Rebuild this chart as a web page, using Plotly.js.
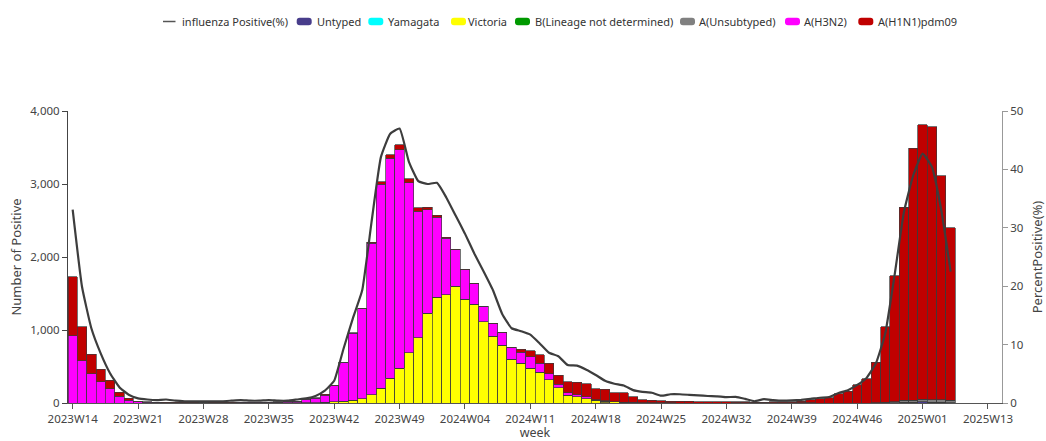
<!DOCTYPE html>
<html>
<head>
<meta charset="utf-8">
<script src="https://cdn.plot.ly/plotly-3.0.1.min.js"></script>
<style>
html,body{margin:0;padding:0;background:#fff;}
#chart{width:1046px;height:441px;}
</style>
</head>
<body>
<div id="chart"></div>
<script>
// Axis categories (weeks) and tick labels
const weeks = [
"2023W14","2023W15","2023W16","2023W17","2023W18","2023W19","2023W20","2023W21","2023W22","2023W23",
"2023W24","2023W25","2023W26","2023W27","2023W28","2023W29","2023W30","2023W31","2023W32","2023W33",
"2023W34","2023W35","2023W36","2023W37","2023W38","2023W39","2023W40","2023W41","2023W42","2023W43",
"2023W44","2023W45","2023W46","2023W47","2023W48","2023W49","2023W50","2023W51","2023W52","2024W01",
"2024W02","2024W03","2024W04","2024W05","2024W06","2024W07","2024W08","2024W09","2024W10","2024W11",
"2024W12","2024W13","2024W14","2024W15","2024W16","2024W17","2024W18","2024W19","2024W20","2024W21",
"2024W22","2024W23","2024W24","2024W25","2024W26","2024W27","2024W28","2024W29","2024W30","2024W31",
"2024W32","2024W33","2024W34","2024W35","2024W36","2024W37","2024W38","2024W39","2024W40","2024W41",
"2024W42","2024W43","2024W44","2024W45","2024W46","2024W47","2024W48","2024W49","2024W50","2024W51",
"2024W52","2025W01","2025W02","2025W03","2025W04"];
const axisWeeks = weeks.concat(["2025W10","2025W11","2025W12","2025W13","2025W14"]);
const tickLabels = ["2023W14","2023W21","2023W28","2023W35","2023W42","2023W49","2024W04","2024W11",
"2024W18","2024W25","2024W32","2024W39","2024W46","2025W01","2025W13"];

// Series names and colours
const seriesNames = ["influenza Positive(%)","Untyped","Yamagata","Victoria","B(Lineage not determined)",
"A(Unsubtyped)","A(H3N2)","A(H1N1)pdm09"];
const seriesColors = ["#3d3d3d","#483D8B","#00FFFF","#FFFF00","#009900","#808080","#FF00FF","#C00000"];

// Series values
const untyped = [
0,0,0,0,0,0,0,0,0,0, 0,0,0,0,0,0,0,0,0,0, 0,0,0,0,0,0,0,0,0,0,
0,0,0,0,0,0,0,0,0,0, 0,0,0,0,0,0,0,0,0,0, 0,0,0,0,0,0,0,2,0,0,
0,0,0,0,0,0,0,0,0,0, 0,0,0,0,0,0,0,0,0,0, 0,0,0,0,0,0,0,0,5,10,
10,15,10,8,5];
const yamagata = new Array(95).fill(0);
const victoria = [
0,0,0,0,0,0,0,0,0,0, 0,0,0,0,0,0,0,0,0,0, 0,0,1,1,2,3,5,8,15,25,
35,55,113,205,341,478,691,896,1228,1447, 1485,1601,1424,1355,1110,915,788,600,546,478,
420,316,212,108,84,60,36,22,15,10, 6,2,1,1,0,0,0,0,0,0,
0,0,0,0,0,0,0,0,0,0, 0,0,0,0,0,0,0,0,0,0, 0,0,0,0,0];
const bLineage = new Array(95).fill(0);
const aUnsub = [
0,0,0,0,0,0,0,0,0,0, 0,0,0,0,0,0,0,0,0,0, 0,0,0,0,0,0,0,0,0,0,
0,0,0,0,0,0,0,0,0,0, 0,0,0,0,0,0,0,0,0,0, 0,0,0,0,0,0,0,0,0,0,
0,0,0,0,0,0,0,0,0,0, 0,3,5,6,6,5,5,4,3,2, 0,0,0,0,0,0,5,10,15,25,
30,35,35,40,30];
const h3n2 = [
920,580,400,290,195,95,40,15,10,8, 6,5,5,4,4,5,6,6,7,8, 8,10,12,14,20,47,57,100,223,530,
920,1237,2074,2795,3014,2994,2329,1734,1420,1100, 773,497,402,282,215,172,174,158,151,154,
125,82,45,35,29,25,12,8,5,3, 2,2,1,1,1,0,0,0,0,0, 0,0,0,0,0,0,0,0,0,0,
0,0,0,0,0,0,0,0,0,0, 0,0,0,0,0];
const h1n1 = [
810,465,270,175,115,50,25,10,4,3, 3,3,2,3,2,2,3,3,3,3, 4,3,3,4,5,5,8,10,2,3,
5,8,15,30,45,68,55,45,36,25, 16,8,5,5,3,3,4,8,40,82,
114,148,125,145,168,178,147,158,118,127, 80,41,33,28,24,24,22,20,20,18,
18,12,9,6,6,9,10,14,22,43, 60,75,125,158,250,335,550,1035,1725,2645,
3450,3762,3740,3065,2365];
const percentPositive = [
33.1,19.9,12.8,8.5,5.1,2.7,1.4,0.8,0.6,0.5, 0.6,0.4,0.3,0.3,0.3,0.3,0.3,0.4,0.5,0.4,
0.4,0.5,0.4,0.4,0.6,0.8,1.2,2.1,3.8,9.3, 14.5,19.3,31.0,42.1,46.1,47.0,41.3,38.0,37.5,37.7,
35.2,32.1,29.0,25.6,22.5,19.3,15.2,12.8,12.3,11.7, 10.2,8.6,8.0,6.5,6.4,5.7,4.8,3.8,3.3,3.0,
2.2,1.9,1.75,1.25,1.5,1.5,1.4,1.3,1.2,1.15, 1.0,1.05,0.7,0.3,0.65,0.5,0.4,0.45,0.55,0.7,
0.9,1.0,1.7,2.2,3.1,4.3,6.8,11.9,21.9,32.7, 39.0,42.7,40.4,33.0,22.5];

const barSeries = [untyped, yamagata, victoria, bLineage, aUnsub, h3n2, h1n1];

// ---- layout geometry (pixels) ----
const W = 1046, H = 441;
const M = {l:68, r:44, t:111, b:38};
const PW = W - M.l - M.r, PH = H - M.t - M.b;
const px2x = p => (p - M.l) / PW;
const py2y = p => (H - M.b - p) / PH;

const barLine = {color:'#3a3a3a', width:0.7};
const traces = [
  {type:'scatter', mode:'lines', name:seriesNames[0], x:weeks, y:percentPositive,
   yaxis:'y2', line:{color:seriesColors[0], width:2.2, shape:'spline', smoothing:0.4}}
];
barSeries.forEach((vals, i) => {
  traces.push({type:'bar', name:seriesNames[i+1], x:weeks, y:vals, yaxis:'y',
    marker:{color:seriesColors[i+1], line:barLine}});
});

// ---- custom one-row legend (ECharts style) ----
const legIcon = [163, 296.7, 368.3, 451, 515, 680, 785, 858.3];
const legText = [180.5, 315.5, 386.5, 467, 534, 698, 803, 877];
const legY = 21.5;
const shapes = [], annotations = [];
function roundRectPath(x0, y0, x1, y1, r){
  // pixel coords -> paper coords, rounded corners via quadratic curves
  const X = p => px2x(p).toFixed(5), Y = p => py2y(p).toFixed(5);
  return 'M' + X(x0+r) + ',' + Y(y0) + ' L' + X(x1-r) + ',' + Y(y0) +
    ' Q' + X(x1) + ',' + Y(y0) + ' ' + X(x1) + ',' + Y(y0+r) +
    ' L' + X(x1) + ',' + Y(y1-r) +
    ' Q' + X(x1) + ',' + Y(y1) + ' ' + X(x1-r) + ',' + Y(y1) +
    ' L' + X(x0+r) + ',' + Y(y1) +
    ' Q' + X(x0) + ',' + Y(y1) + ' ' + X(x0) + ',' + Y(y1-r) +
    ' L' + X(x0) + ',' + Y(y0+r) +
    ' Q' + X(x0) + ',' + Y(y0) + ' ' + X(x0+r) + ',' + Y(y0) + ' Z';
}
seriesNames.forEach((name, i) => {
  if (i === 0) {
    shapes.push({type:'line', xref:'paper', yref:'paper',
      x0:px2x(legIcon[0]), x1:px2x(legIcon[0]+12.5), y0:py2y(legY), y1:py2y(legY),
      line:{color:'#555', width:1.5}});
  } else {
    shapes.push({type:'path', xref:'paper', yref:'paper',
      path:roundRectPath(legIcon[i], legY-3.8, legIcon[i]+15, legY+3.8, 3),
      fillcolor:seriesColors[i], line:{width:0}});
  }
  annotations.push({xref:'paper', yref:'paper', x:px2x(legText[i]-1), y:py2y(legY),
    xanchor:'left', yanchor:'middle', showarrow:false, text:name,
    font:{size:11, color:'#333'}});
});

const fontFam = '"Noto Sans", "Open Sans", sans-serif';
const layout = {
  width:W, height:H,
  margin:{l:M.l, r:M.r, t:M.t, b:M.b, pad:0},
  paper_bgcolor:'#fff', plot_bgcolor:'#fff',
  font:{family:fontFam, size:12, color:'#333'},
  barmode:'stack', bargap:0,
  showlegend:false,
  shapes:shapes, annotations:annotations,
  xaxis:{type:'category', categoryorder:'array', categoryarray:axisWeeks,
         range:[-0.5, 99.5], tickmode:'array', tickvals:tickLabels, ticktext:tickLabels,
         showline:true, linecolor:'#555', linewidth:1, ticks:'outside', ticklen:5,
         tickcolor:'#555', showgrid:false, zeroline:false, automargin:false,
         tickfont:{size:11.5, color:'#444'},
         title:{text:'week', font:{size:12.5, color:'#444'}, standoff:11}},
  yaxis:{range:[0,4000], tickvals:[0,1000,2000,3000,4000], tickformat:',d',
         showline:true, linecolor:'#444', linewidth:1, ticks:'outside', ticklen:5,
         tickcolor:'#444', showgrid:false, zeroline:false, automargin:false,
         tickfont:{size:11.5, color:'#444'},
         title:{text:'Number of Positive', font:{size:13, color:'#444'}, standoff:5}},
  yaxis2:{range:[0,50], tickvals:[0,10,20,30,40,50], overlaying:'y', side:'right',
          showline:true, linecolor:'#999', linewidth:1, ticks:'outside', ticklen:5,
          tickcolor:'#999', showgrid:false, zeroline:false, automargin:false,
          tickfont:{size:11.5, color:'#444'},
          title:{text:'PercentPositive(%)', font:{size:13, color:'#444'}, standoff:12}}
};
Plotly.newPlot('chart', traces, layout, {displayModeBar:false, staticPlot:true});
</script>
</body>
</html>
